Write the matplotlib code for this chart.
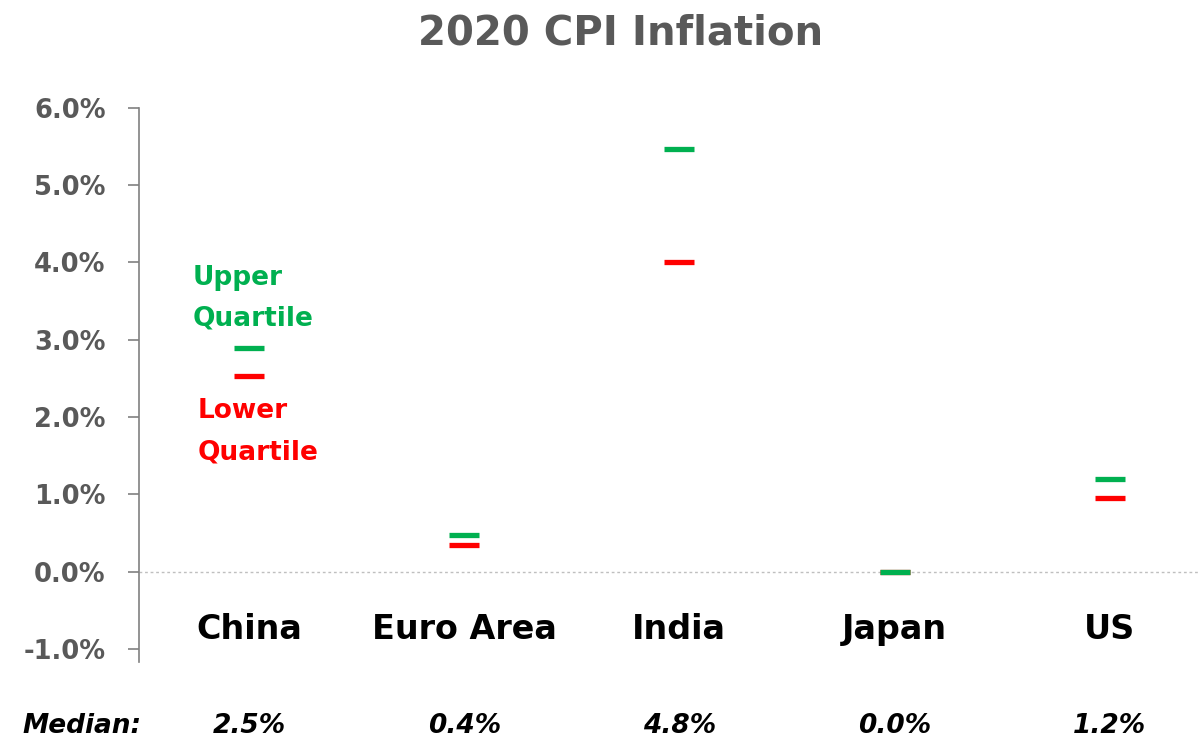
import matplotlib
matplotlib.use("Agg")
import matplotlib.pyplot as plt
import matplotlib.transforms as mtransforms

# data
countries = ["China", "Euro Area", "India", "Japan", "US"]
upper_q = [2.9, 0.48, 5.47, 0.0, 1.2]
lower_q = [2.53, 0.34, 4.0, 0.0, 0.95]
medians = ["2.5%", "0.4%", "4.8%", "0.0%", "1.2%"]
y_ticks = [-1, 0, 1, 2, 3, 4, 5, 6]

GREEN = "#00B050"
RED = "#FF0000"
GREY = "#595959"

plt.rcParams["font.family"] = ["DejaVu Sans"]
plt.rcParams["font.weight"] = "bold"

fig = plt.figure(figsize=(11.98, 7.39), dpi=100)
ax = fig.add_axes([0.116, 0.104, 0.884, 0.750])

x = list(range(len(countries)))
ax.plot(x, lower_q, linestyle="none", marker="_", markersize=21.5,
        markeredgewidth=3.8, color=RED, zorder=3)
ax.plot(x, upper_q, linestyle="none", marker="_", markersize=21.5,
        markeredgewidth=3.8, color=GREEN, zorder=4)

ax.axhline(0, color="#BFBFBF", linestyle=(0, (2, 2)), linewidth=1.0, zorder=1)

ax.set_xlim(-0.511, 4.41)
ax.set_ylim(-1.17, 6.0)
ax.set_yticks(y_ticks)
ax.set_yticklabels([f"{v:.1f}%" for v in y_ticks])
ax.tick_params(axis="y", direction="out", length=8, width=1.2, color="#808080",
               labelsize=18.5, labelcolor=GREY, pad=16)
ax.set_xticks([])
for s in ["top", "right", "bottom"]:
    ax.spines[s].set_visible(False)
ax.spines["left"].set_color("#808080")
ax.spines["left"].set_linewidth(1.2)
ax.spines["left"].set_bounds(-1.17, 6.0)

# category names inside the plot
for xi, name in zip(x, countries):
    ax.text(xi, -0.75, name, ha="center", va="center", fontsize=24,
            fontweight="bold", color="black")

# quartile annotations
ax.text(-0.26, 3.8, "Upper", color=GREEN, fontsize=19, fontweight="bold",
        ha="left", va="center")
ax.text(-0.26, 3.27, "Quartile", color=GREEN, fontsize=19, fontweight="bold",
        ha="left", va="center")
ax.text(-0.24, 2.08, "Lower", color=RED, fontsize=19, fontweight="bold",
        ha="left", va="center")
ax.text(-0.24, 1.54, "Quartile", color=RED, fontsize=19, fontweight="bold",
        ha="left", va="center")

fig.text(0.518, 0.955, "2020 CPI Inflation", ha="center", va="center",
         fontsize=29, fontweight="bold", color=GREY)

# median row below the axes
trans = mtransforms.blended_transform_factory(ax.transData, fig.transFigure)
fig.text(0.0685, 0.017, "Median:", ha="center", va="center", fontsize=19,
         fontweight="bold", fontstyle="italic", color="black")
for xi, m in zip(x, medians):
    ax.text(xi, 0.017, m, transform=trans, ha="center", va="center",
            fontsize=19, fontweight="bold", fontstyle="italic", color="black",
            clip_on=False)

fig.savefig("out.png", dpi=100)
